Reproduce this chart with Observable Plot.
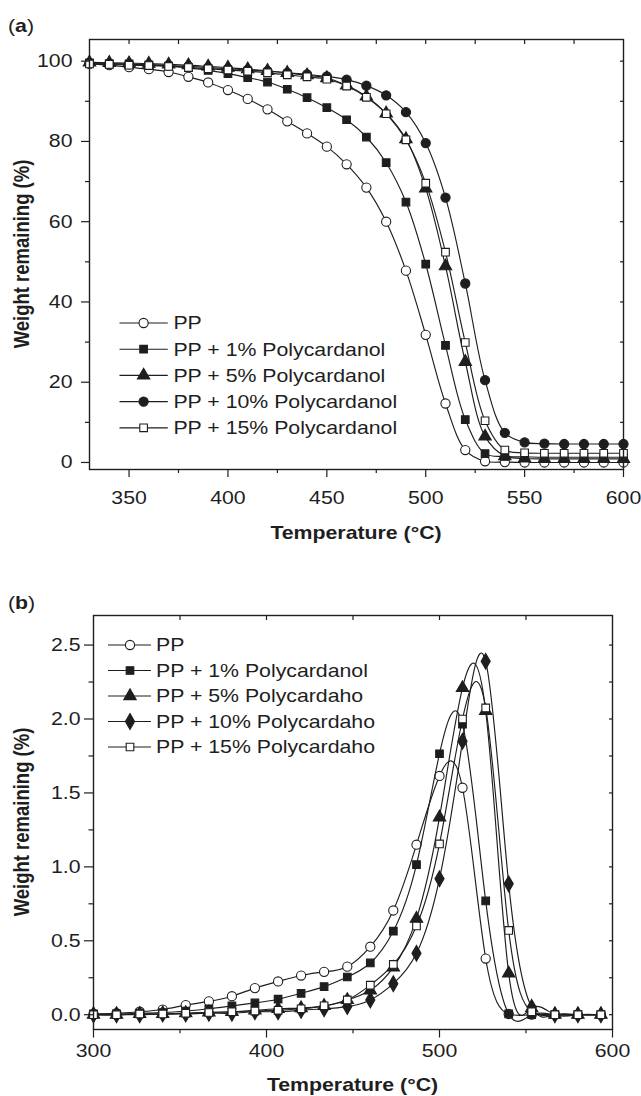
<!DOCTYPE html>
<html><head><meta charset="utf-8">
<script src="https://cdn.jsdelivr.net/npm/d3@7"></script>
<script src="https://cdn.jsdelivr.net/npm/@observablehq/plot@0.6"></script>
<style>
html,body{margin:0;padding:0;background:#fff;}
#wrap{position:relative;width:641px;height:1096px;overflow:hidden;}
#wrap svg{position:absolute;left:0;}
</style></head><body><div id="wrap"></div>
<script>
// ---------- Panel (a): TGA ----------
const tempsA = [330,340,350,360,370,380,390,400,410,420,430,440,450,460,470,480,490,500,510,520,530,540,550,560,570,580,590,600];
const ppA   = [99.4,99.0,98.5,98.0,97.3,96.1,94.7,92.8,90.6,88.0,85.0,82.0,78.7,74.3,68.5,60.0,47.8,31.8,14.7,3.1,0.3,0.1,0,0,0,0,0,0];
const pc1A  = [99.6,99.4,99.3,99.1,98.8,98.4,97.7,96.9,95.9,94.8,93.0,90.9,88.4,85.4,81.1,74.7,64.9,49.4,29.2,10.7,2.2,1.5,1.4,1.3,1.3,1.3,1.3,1.3];
const pc5A  = [99.7,99.6,99.5,99.4,99.2,99.0,98.7,98.4,98.0,97.6,97.1,96.5,95.8,94.0,91.2,87.0,80.6,68.3,48.9,25.1,6.5,1.6,1.0,0.9,0.9,0.9,0.9,0.9];
const pc10A = [99.4,99.3,99.2,99.1,98.9,98.7,98.4,98.1,97.8,97.5,97.1,96.7,96.2,95.4,93.9,91.5,87.3,79.6,66.0,44.6,20.5,7.4,5.0,4.7,4.6,4.6,4.6,4.6];
const pc15A = [99.3,99.2,99.0,98.9,98.7,98.4,98.1,97.8,97.5,97.1,96.6,96.1,95.5,93.8,91.0,86.9,80.4,69.6,52.4,29.9,10.4,3.1,2.4,2.3,2.3,2.3,2.3,2.3];
const labelsA = ["PP","PP + 1% Polycardanol","PP + 5% Polycardanol","PP + 10% Polycardanol","PP + 15% Polycardanol"];
const xMajorA = [350,400,450,500,550,600];
const xMinorA = [375,425,475,525,575];
const xTopA   = [350,375,400,425,450,475,500,525,550,575];
const yMajorA = [0,20,40,60,80,100];
const yMinorA = [10,30,50,70,90];
const yRightA = [0,10,20,30,40,50,60,70,80,90,100];

// ---------- Panel (b): DTG ----------
const tempsB = [300,313.3,326.7,340,353.3,366.7,380,393.3,406.7,420,433.3,446.7,460,473.3,486.7,500,513.3,526.7,540,553.3,566.7,580,593.3];
const ppB   = [0.005,0.01,0.02,0.035,0.065,0.09,0.125,0.18,0.225,0.265,0.29,0.325,0.46,0.705,1.15,1.615,1.535,0.38,0.005,0,0,0,0];
const pc1B  = [0.005,0.005,0.01,0.015,0.025,0.04,0.06,0.08,0.105,0.145,0.19,0.255,0.35,0.565,1.015,1.765,1.965,0.77,0.005,0,0,0,0];
const pc5B  = [0,0,0.005,0.005,0.01,0.015,0.02,0.03,0.04,0.045,0.06,0.1,0.165,0.32,0.65,1.335,2.21,2.055,0.28,0.045,0,0,0];
const pc10B = [0,0,0,0.005,0.005,0.01,0.01,0.02,0.02,0.03,0.04,0.055,0.1,0.21,0.415,0.92,1.85,2.39,0.885,0.05,0,0,0];
const pc15B = [0,0,0.005,0.005,0.01,0.015,0.02,0.025,0.03,0.04,0.06,0.1,0.2,0.34,0.6,1.155,2.0,2.075,0.57,0.02,0,0,0];
const labelsB = ["PP","PP + 1% Polycardanol","PP + 5% Polycardaho","PP + 10% Polycardaho","PP + 15% Polycardaho"];
const xMajorB = [300,400,500,600];
const xMinorB = [350,450,550];
const xTopB   = [350,400,450,500,550];
const yMajorB = [0,0.5,1.0,1.5,2.0,2.5];
const yMinorB = [0.25,0.75,1.25,1.75,2.25];
const yRightB = [0,0.25,0.5,0.75,1.0,1.25,1.5,1.75,2.0,2.25,2.5];

const INK = "#1e1e1e";
const FONTFAM = '"Liberation Sans", Arial, Helvetica, sans-serif';
const FS = 18.5, SX = 1.15;
const symA = [
  {symbol:"circle", fill:"white", r:4.6},
  {symbol:"square", fill:INK, r:4.3},
  {symbol:"triangle", fill:INK, r:4.6},
  {symbol:"circle", fill:INK, r:4.6},
  {symbol:"square", fill:"white", r:4.3}
];
const symB = [
  {symbol:"circle", fill:"white", r:4.6},
  {symbol:"square", fill:INK, r:4.3},
  {symbol:"triangle", fill:INK, r:4.6},
  {symbol:"diamond", fill:INK, r:4.8},
  {symbol:"square", fill:"white", r:4.3}
];

function rowsOf(temps, arrays){
  return arrays.map(vals => vals.map((v,i)=>({T: temps[i], v})));
}

function seriesMarks(series, syms, curve){
  const m = [];
  series.forEach((rows,k)=>{
    m.push(Plot.line(rows, {x:"T", y:"v", curve, stroke:INK, strokeWidth:1.15}));
    m.push(Plot.dot(rows, {x:"T", y:"v", symbol: syms[k].symbol, r: syms[k].r, fill: syms[k].fill, stroke: INK, strokeWidth: 1.1}));
  });
  return m;
}

// widen glyphs horizontally (the reference type is slightly extended)
function widen(node){
  const len = node.getComputedTextLength();
  if (len > 0) {
    node.setAttribute("textLength", (len*SX).toFixed(2));
    node.setAttribute("lengthAdjust", "spacingAndGlyphs");
  }
}
function widenAll(svg){
  d3.select(svg).selectAll("text").each(function(){ if (!this.dataset.rot) widen(this); });
}

function addText(sel, str, x, y, opts={}){
  const t = sel.append("text")
    .attr("transform", opts.rotate ? `translate(${x},${y}) rotate(-90) scale(1,${SX})` : `translate(${x},${y})`)
    .attr("dy","0.35em")
    .attr("text-anchor", opts.anchor || "middle")
    .attr("font-family", FONTFAM)
    .attr("font-size", FS)
    .attr("font-weight", opts.bold ? "bold" : "normal")
    .attr("fill", INK);
  if (opts.rotate) t.attr("data-rot", "1");
  if (opts.html) { t.html(opts.html); } else { t.text(str); }
  return t;
}

function legend(sel, labels, syms, y0, dy, x1, x2, xm, xt){
  labels.forEach((lab,k)=>{
    const y = y0 + dy*k;
    sel.append("line").attr("x1",x1).attr("x2",x2).attr("y1",y).attr("y2",y).attr("stroke",INK).attr("stroke-width",1.15);
    const typ = {circle:d3.symbolCircle, square:d3.symbolSquare, triangle:d3.symbolTriangle, diamond:d3.symbolDiamond}[syms[k].symbol];
    sel.append("path").attr("d", d3.symbol(typ, Math.PI*syms[k].r*syms[k].r)())
      .attr("transform",`translate(${xm},${y})`).attr("fill",syms[k].fill).attr("stroke",INK).attr("stroke-width",1.1);
    addText(sel, lab, xt, y, {anchor:"start"});
  });
}

const wrap = document.getElementById("wrap");
const baseStyle = {fontFamily: FONTFAM, fontSize: FS+"px", color: INK, background: "white", overflow: "visible"};

// ----- Plot (a)
const plotA = Plot.plot({
  width: 641, height: 560,
  marginTop: 39, marginBottom: 91, marginLeft: 89, marginRight: 18,
  style: baseStyle,
  x: {domain:[330,600]},
  y: {domain:[-1.75,105.4]},
  marks: [
    ...seriesMarks(rowsOf(tempsA,[ppA,pc1A,pc5A,pc10A,pc15A]), symA, "catmull-rom"),
    Plot.axisX(xMajorA, {anchor:"bottom", tickSize:8, tickPadding:13, label:null, strokeWidth:1.2}),
    Plot.axisX(xMinorA, {anchor:"bottom", tickSize:4, tickFormat:()=>"", label:null, strokeWidth:1.2}),
    Plot.axisX(xTopA, {anchor:"top", tickSize:-4, tickFormat:()=>"", label:null, strokeWidth:1.2}),
    Plot.axisY(yMajorA, {anchor:"left", tickSize:8, tickPadding:9, label:null, strokeWidth:1.2}),
    Plot.axisY(yMinorA, {anchor:"left", tickSize:4, tickFormat:()=>"", label:null, strokeWidth:1.2}),
    Plot.axisY(yRightA, {anchor:"right", tickSize:-4, tickFormat:()=>"", label:null, strokeWidth:1.2}),
    Plot.frame({stroke:INK, strokeWidth:1.4})
  ]
});
plotA.style.top = "0px";
wrap.appendChild(plotA);
{
  const s = d3.select(plotA);
  addText(s, "", 8, 25.5, {anchor:"start", html:'(<tspan font-weight="bold">a</tspan>)'});
  addText(s, "Temperature (°C)", 356, 533, {bold:true});
  addText(s, "Weight remaining (%)", 22, 254, {bold:true, rotate:true});
  legend(s, labelsA, symA, 323, 26.2, 119.5, 167.8, 143.6, 173.4);
}
widenAll(plotA);

// ----- Plot (b)
const plotB = Plot.plot({
  width: 641, height: 536,
  marginTop: 55, marginBottom: 67, marginLeft: 93, marginRight: 29,
  style: baseStyle,
  x: {domain:[300,600]},
  y: {domain:[-0.1,2.7]},
  marks: [
    ...seriesMarks(rowsOf(tempsB,[ppB,pc1B,pc5B,pc10B,pc15B]), symB, "natural"),
    Plot.axisX(xMajorB, {anchor:"bottom", tickSize:8.5, tickPadding:5.5, label:null, strokeWidth:1.2}),
    Plot.axisX(xMinorB, {anchor:"bottom", tickSize:4.3, tickFormat:()=>"", label:null, strokeWidth:1.2}),
    Plot.axisX(xTopB, {anchor:"top", tickSize:-4, tickFormat:()=>"", label:null, strokeWidth:1.2}),
    Plot.axisY(yMajorB, {anchor:"left", tickSize:9, tickPadding:4, tickFormat:d3.format(".1f"), label:null, strokeWidth:1.2}),
    Plot.axisY(yMinorB, {anchor:"left", tickSize:4.5, tickFormat:()=>"", label:null, strokeWidth:1.2}),
    Plot.axisY(yRightB, {anchor:"right", tickSize:-4, tickFormat:()=>"", label:null, strokeWidth:1.2}),
    Plot.frame({stroke:INK, strokeWidth:1.4})
  ]
});
plotB.style.top = "560px";
wrap.appendChild(plotB);
{
  const s = d3.select(plotB);
  addText(s, "", 8, 42.5, {anchor:"start", html:'(<tspan font-weight="bold">b</tspan>)'});
  addText(s, "Temperature (°C)", 352.5, 525, {bold:true});
  addText(s, "Weight remaining (%)", 22, 262, {bold:true, rotate:true});
  legend(s, labelsB, symB, 85, 25.5, 108, 151, 130, 156);
}
widenAll(plotB);
</script>
</body></html>
